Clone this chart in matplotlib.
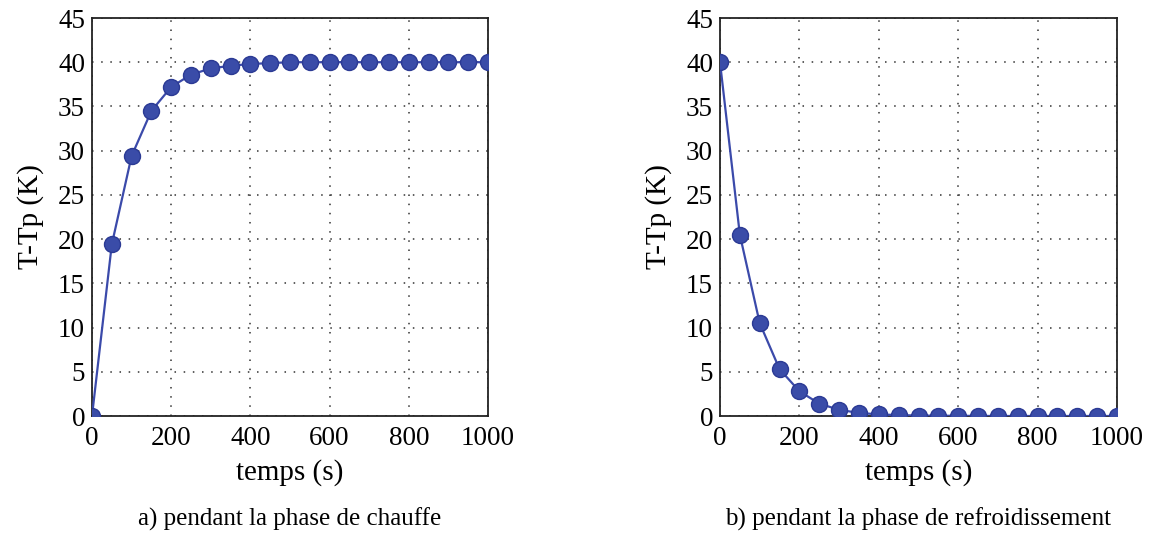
import matplotlib
matplotlib.use("Agg")
import matplotlib.pyplot as plt

# temps (s)
temps = [0, 50, 100, 150, 200, 250, 300, 350, 400, 450, 500, 550, 600, 650,
         700, 750, 800, 850, 900, 950, 1000]
# T-Tp (K) pendant la chauffe
chauffe = [0, 19.4, 29.4, 34.5, 37.2, 38.6, 39.3, 39.6, 39.8, 39.9, 40.0, 40.0,
           40.0, 40.0, 40.0, 40.0, 40.0, 40.0, 40.0, 40.0, 40.0]
# T-Tp (K) pendant le refroidissement
refroid = [40.0, 20.5, 10.5, 5.3, 2.8, 1.4, 0.7, 0.35, 0.18, 0.1, 0.05, 0.03,
           0.02, 0.01, 0, 0, 0, 0, 0, 0, 0]

xticks = [0, 200, 400, 600, 800, 1000]
yticks = list(range(0, 50, 5))
legendes = ["a) pendant la phase de chauffe",
            "b) pendant la phase de refroidissement"]

plt.rcParams['font.family'] = ['Liberation Serif', 'DejaVu Serif']

fig = plt.figure(figsize=(11.51, 5.36), dpi=100)
ax1 = fig.add_axes([92/1151, 1 - 416/536, 396/1151, 398/536])
ax2 = fig.add_axes([720/1151, 1 - 416/536, 397/1151, 398/536])

for ax, y, leg in [(ax1, chauffe, legendes[0]), (ax2, refroid, legendes[1])]:
    ax.plot(temps, y, '-o', color='#3b4aaa', lw=1.6, ms=11.5,
            mfc='#3a4ca8', mec='#2b3a94', mew=1, zorder=3)
    ax.set_xlim(0, 1000)
    ax.set_ylim(0, 45)
    ax.set_xticks(xticks)
    ax.set_yticks(yticks)
    ax.tick_params(labelsize=19.5, direction='in', length=0)
    ax.tick_params(axis='x', pad=7)
    ax.tick_params(axis='y', pad=5)
    ax.grid(True, linestyle=(0, (1, 5)), color='#333333', lw=1.1)
    for s in ax.spines.values():
        s.set_linewidth(1.3)
        s.set_color('#222222')
    ax.set_xlabel("temps (s)", fontsize=21, labelpad=6)
    ax.set_ylabel("T-Tp (K)", fontsize=21, labelpad=10)
    pos = ax.get_position()
    fig.text((pos.x0 + pos.x1) / 2, 1 - 519/536, leg, ha='center',
             va='center', fontsize=18)

fig.savefig("out.png", dpi=100)
